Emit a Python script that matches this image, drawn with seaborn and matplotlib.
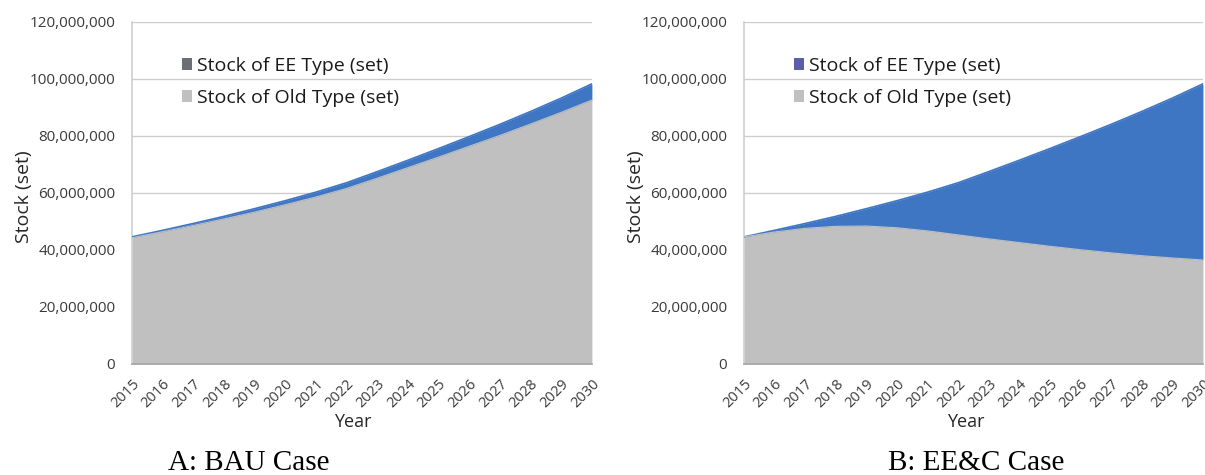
import numpy as np
import matplotlib
matplotlib.use("Agg")
import matplotlib.pyplot as plt
import seaborn as sns
from matplotlib.patches import Patch
from matplotlib.ticker import FuncFormatter, MultipleLocator

# Appliance stock projections, in millions of sets
years = list(range(2015, 2031))

bau_old = [44.3, 46.4, 48.6, 50.9, 53.3, 55.9, 58.6, 61.6,
           65.2, 68.9, 72.6, 76.4, 80.2, 84.2, 88.3, 92.6]
bau_ee = [0.3, 0.5, 0.7, 0.9, 1.2, 1.4, 1.7, 2.0,
          2.3, 2.6, 3.0, 3.4, 3.9, 4.4, 5.0, 5.7]

eec_old = [44.6, 46.3, 47.6, 48.3, 48.4, 47.8, 46.7, 45.3,
           43.9, 42.6, 41.3, 40.1, 39.0, 38.0, 37.2, 36.5]
eec_ee = [0.0, 0.6, 1.7, 3.5, 6.1, 9.5, 13.6, 18.3,
          23.6, 28.9, 34.3, 39.7, 45.1, 50.6, 56.1, 61.8]

series_labels = ["Stock of EE Type (set)", "Stock of Old Type (set)"]
captions = ["A: BAU Case", "B: EE&C Case"]

SCALE = 1e6
BLUE = "#3F76C4"
GRAY = "#C0C0C0"
TEXT = "#3A3A3A"

sns.set_theme(style="white")
plt.rcParams["font.family"] = ["Open Sans", "DejaVu Sans"]

fig = plt.figure(figsize=(12.05, 4.75), dpi=100)
ax_a = fig.add_axes([0.1095, 0.2337, 0.3817, 0.72])
ax_b = fig.add_axes([0.6174, 0.2337, 0.3809, 0.72])

panels = [
    (ax_a, bau_old, bau_ee, "#6E6E76", captions[0], 0.2066, 0.48),
    (ax_b, eec_old, eec_ee, "#5B5EA8", captions[1], 0.810, 0.484),
]

for ax, old, ee, ee_legend_color, caption, cap_x, year_x in panels:
    x = np.array(years)
    old_v = np.array(old) * SCALE
    top_v = (np.array(old) + np.array(ee)) * SCALE

    # stacked areas: old type at the bottom, EE type on top
    ax.fill_between(x, 0, old_v, color=GRAY, linewidth=0, zorder=2)
    ax.fill_between(x, old_v, top_v, color=BLUE, linewidth=0, zorder=2)
    sns.lineplot(x=x, y=top_v, ax=ax, color=BLUE, linewidth=1.2, zorder=3)
    sns.lineplot(x=x, y=old_v, ax=ax, color=GRAY, linewidth=0.8, zorder=3)

    ax.set_xlim(2015, 2030)
    ax.set_ylim(0, 120 * SCALE)
    ax.yaxis.set_major_locator(MultipleLocator(20 * SCALE))
    ax.yaxis.set_major_formatter(FuncFormatter(lambda v, p: f"{int(round(v)):,}"))
    ax.set_xticks(years)
    ax.set_xticklabels([str(y) for y in years], rotation=45, ha="right",
                       rotation_mode="anchor", fontsize=10.5, color=TEXT)
    ax.tick_params(axis="x", length=0, pad=9)
    ax.tick_params(axis="y", length=0, pad=12, labelsize=11, labelcolor=TEXT)

    ax.grid(axis="y", color="#CDCDCD", linewidth=1.0, zorder=1)
    ax.grid(axis="x", visible=False)
    ax.set_axisbelow(True)
    for side in ("top", "right"):
        ax.spines[side].set_visible(False)
    ax.spines["left"].set_color("#D0D0D0")
    ax.spines["bottom"].set_color("#A6A6A6")

    ax.set_ylabel("Stock (set)", fontsize=14, color="#262626")
    ax.yaxis.set_label_coords(-0.215, 0.49)
    ax.set_xlabel("Year", fontsize=13, color="#262626", va="center")
    ax.xaxis.set_label_coords(year_x, -0.17)

    handles = [Patch(facecolor=ee_legend_color, edgecolor="none"),
               Patch(facecolor=GRAY, edgecolor="none")]
    ax.legend(handles, series_labels, loc="upper left",
              bbox_to_anchor=(0.07, 0.95), frameon=False, fontsize=14,
              handlelength=0.55, handleheight=0.55, handletextpad=0.25,
              labelspacing=0.75, labelcolor="#1A1A1A")

    fig.text(cap_x, 0.0105, caption, ha="center", va="baseline",
             fontsize=21, family="Liberation Serif", color="black")

fig.savefig("out.png", dpi=100, facecolor="white")
